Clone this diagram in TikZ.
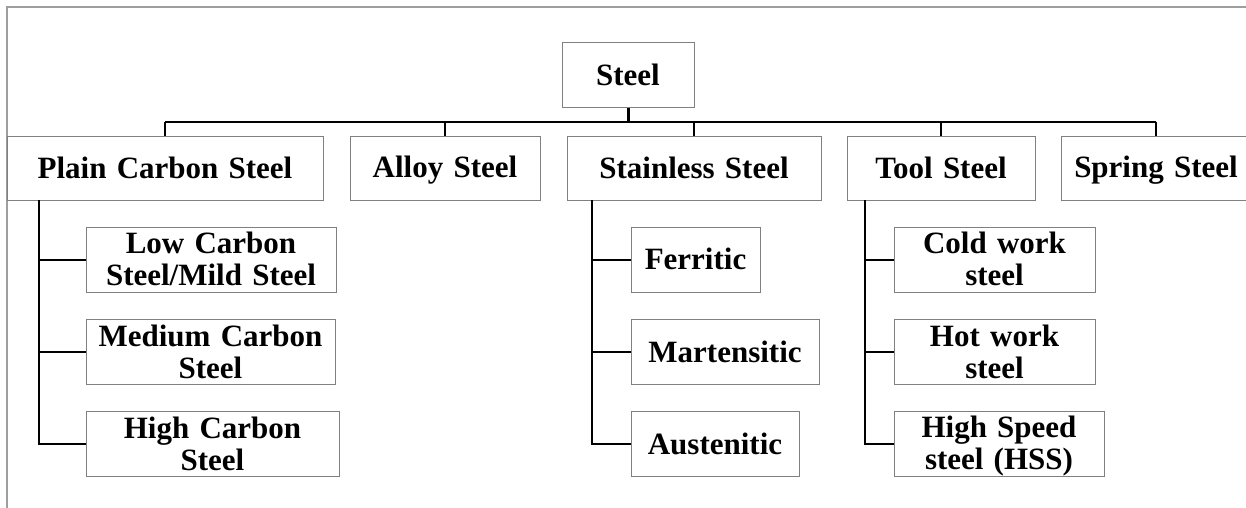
\documentclass[tikz,border=0pt]{standalone}
\usepackage{fontspec}
\setmainfont{Liberation Serif}
\newcommand\TS{\rule{0pt}{0.82em}}
\newcommand\BS{\rule[-0.158em]{0pt}{0.158em}}
\newcommand\widesp{\spaceskip=0.33em\relax}
\begin{document}
\begin{tikzpicture}[x=1pt,y=-1pt,
  box/.style={draw=black!50, line width=1pt, inner sep=0pt, align=center,
    font=\fontsize{31}{32}\selectfont\bfseries\widesp},
  conn/.style={draw=black, line width=2pt},
  frame/.style={draw=black!38, line width=1.5pt}]
\useasboundingbox (0,0) rectangle (1246,508);
\fill[white] (0,0) rectangle (1246,508);
% partial frame
\coordinate (fTR) at (1250,7);
\coordinate (fTL) at (7,7);
\coordinate (fBL) at (7,512);
\draw[frame] (fTR) -- (fTL) -- (fBL);
% root
\node[box, minimum width=132pt, minimum height=65pt] (steel) at (628,75.5) {\TS Steel\BS};
% level 2
\node[box, minimum width=316pt, minimum height=64pt] (pcs) at (165,168) {\TS Plain Carbon Steel\BS};
\node[box, minimum width=190pt, minimum height=64pt] (alloy) at (445,168) {\TS Alloy Steel\BS};
\node[box, minimum width=254pt, minimum height=64pt] (stain) at (694,168) {\TS Stainless Steel\BS};
\node[box, minimum width=188pt, minimum height=64pt] (tool) at (941,168) {\TS Tool Steel\BS};
\node[box, minimum width=190pt, minimum height=64pt] (spring) at (1156,168) {\TS Spring Steel\BS};
% level 3 plain carbon
\node[box, minimum width=250pt, minimum height=65pt] (low) at (211,259.5) {\TS Low Carbon\\Steel/Mild Steel\BS};
\node[box, minimum width=249pt, minimum height=65pt] (med) at (210.5,352) {\TS Medium Carbon\\Steel\BS};
\node[box, minimum width=253pt, minimum height=65pt] (high) at (212.5,444) {\TS High Carbon\\Steel\BS};
% level 3 stainless
\node[box, minimum width=129pt, minimum height=65pt] (fer) at (695.5,259.5) {\TS Ferritic\BS};
\node[box, minimum width=188pt, minimum height=65pt] (mar) at (725,352) {\TS Martensitic\BS};
\node[box, minimum width=168pt, minimum height=65pt] (aus) at (715,444) {\TS Austenitic\BS};
% level 3 tool
\node[box, minimum width=201pt, minimum height=65pt] (cold) at (994.5,259.5) {\TS Cold work\\steel\BS};
\node[box, minimum width=201pt, minimum height=65pt] (hot) at (994.5,352) {\TS Hot work\\steel\BS};
\node[box, minimum width=210pt, minimum height=65pt] (hss) at (999,444) {\TS High Speed\\steel (HSS)\BS};
% bus
\coordinate (busL) at (165,122);
\coordinate (busR) at (1156,122);
\draw[conn, line width=3pt] (steel.south) -- (steel.south |- busL);
\draw[conn, line width=2.5pt] (busL) -- (busR);
\foreach \n in {pcs,alloy,stain,tool,spring}
  \draw[conn] (\n.north) -- (\n.north |- busL);
% sub trees
\coordinate (pcsT) at (39,200);
\coordinate (stT) at (592,200);
\coordinate (tlT) at (865,200);
\draw[conn] (pcsT) |- (high.west);
\draw[conn] (low.west) -- (low.west -| pcsT);
\draw[conn] (med.west) -- (med.west -| pcsT);
\draw[conn] (stT) |- (aus.west);
\draw[conn] (fer.west) -- (fer.west -| stT);
\draw[conn] (mar.west) -- (mar.west -| stT);
\draw[conn] (tlT) |- (hss.west);
\draw[conn] (cold.west) -- (cold.west -| tlT);
\draw[conn] (hot.west) -- (hot.west -| tlT);
\end{tikzpicture}
\end{document}
